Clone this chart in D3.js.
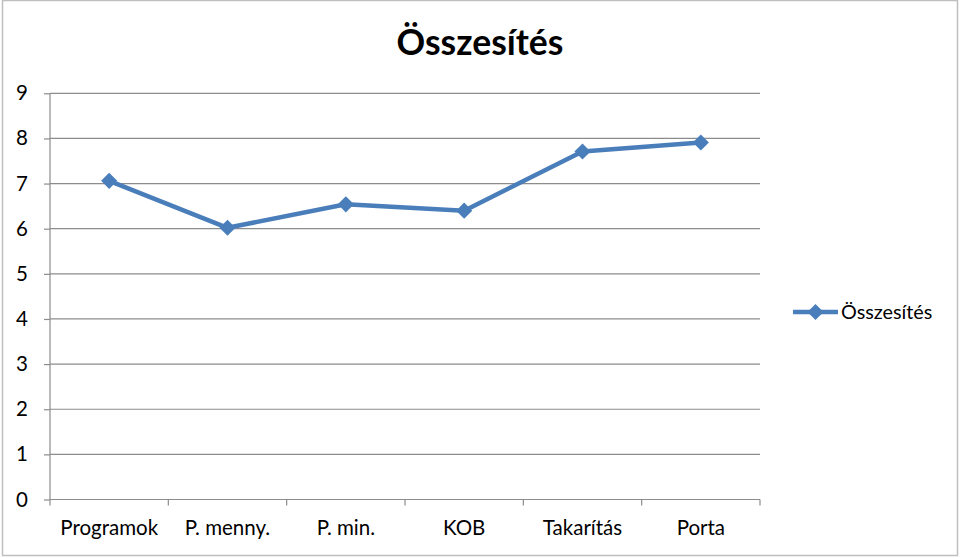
<!DOCTYPE html>
<html><head><meta charset="utf-8">
<script src="https://cdn.jsdelivr.net/npm/d3@7"></script>
<style>body{margin:0;background:#fff}svg{display:block}</style>
</head><body>
<svg id="c" width="960" height="558"></svg>
<script>
const title = "Összesítés";
const seriesName = "Összesítés";
const categories = ["Programok", "P. menny.", "P. min.", "KOB", "Takarítás", "Porta"];
const values = [7.06, 6.02, 6.54, 6.40, 7.71, 7.91];
const yTicks = [0, 1, 2, 3, 4, 5, 6, 7, 8, 9];

const font = "Lato, 'Open Sans', sans-serif";
const color = "#4a7ebb";
const svg = d3.select("#c");
const W = 960, H = 558;
const L = 50, R = 760, T = 93.3, B = 499.5;

svg.append("rect").attr("x", 2.5).attr("y", 0.5).attr("width", W - 5).attr("height", H - 3)
  .attr("fill", "#fff").attr("stroke", "#bfbfbf").attr("stroke-width", 1.5);

const x = d3.scaleBand().domain(categories).range([L, R]);
const y = d3.scaleLinear().domain([0, 9]).range([B, T]);

// gridlines
svg.append("g").selectAll("line").data(yTicks.filter(d => d > 0)).join("line")
  .attr("x1", L).attr("x2", R).attr("y1", d => y(d)).attr("y2", d => y(d))
  .attr("stroke", "#8c8c8c").attr("stroke-width", 1.2);

// y axis
const ya = svg.append("g").attr("transform", `translate(${L},0)`)
  .call(d3.axisLeft(y).tickValues(yTicks).tickSize(6).tickPadding(16).tickFormat(d3.format("d")));
ya.select(".domain").attr("stroke", "#8c8c8c").attr("stroke-width", 1.2).attr("d", `M0,${B}V${T}`);
ya.selectAll(".tick line").attr("stroke", "#8c8c8c").attr("stroke-width", 1.2);
ya.selectAll("text").attr("font-family", font).attr("font-size", 20.5).attr("fill", "#000");

// x axis
const xa = svg.append("g").attr("transform", `translate(0,${B})`)
  .call(d3.axisBottom(x).tickSize(0).tickPadding(21));
xa.select(".domain").attr("stroke", "#8c8c8c").attr("stroke-width", 1.2).attr("d", `M${L},0H${R}`);
xa.selectAll("text").attr("font-family", font).attr("font-size", 20.5).attr("fill", "#000");
const bounds = categories.map(c => x(c)).concat([R]);
xa.append("g").selectAll("line").data(bounds).join("line")
  .attr("x1", d => d).attr("x2", d => d).attr("y1", 0).attr("y2", 6)
  .attr("stroke", "#8c8c8c").attr("stroke-width", 1.2);

// line
const cx = c => x(c) + x.bandwidth() / 2;
svg.append("path").datum(values)
  .attr("d", d3.line().x((d, i) => cx(categories[i])).y(d => y(d)))
  .attr("fill", "none").attr("stroke", color).attr("stroke-width", 4.5).attr("stroke-linejoin", "round");

const marker = d3.symbol().type(d3.symbolSquare).size(130);
svg.append("g").selectAll("path").data(values).join("path")
  .attr("d", marker())
  .attr("transform", (d, i) => `translate(${cx(categories[i])},${y(d)}) rotate(45)`)
  .attr("fill", color);

// title
svg.append("text").attr("x", 480).attr("y", 55).attr("text-anchor", "middle")
  .attr("font-family", font).attr("font-weight", "bold").attr("font-size", 35.5).attr("fill", "#000")
  .text(title);

// legend
const lg = svg.append("g").attr("transform", "translate(0,312)");
lg.append("line").attr("x1", 793).attr("x2", 838).attr("y1", 0).attr("y2", 0)
  .attr("stroke", color).attr("stroke-width", 4.5);
lg.append("path").attr("d", marker())
  .attr("transform", "translate(815.5,0) rotate(45)").attr("fill", color);
lg.append("text").attr("x", 841).attr("y", 7).attr("font-family", font).attr("font-size", 19.8)
  .attr("fill", "#000").text(seriesName);
</script>
</body></html>
